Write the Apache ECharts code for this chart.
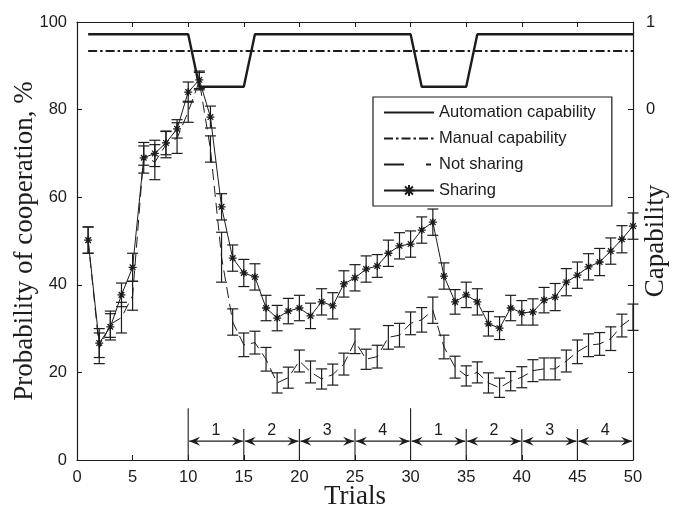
<!DOCTYPE html>
<html>
<head>
<meta charset="utf-8">
<script src="https://cdn.jsdelivr.net/npm/echarts@6/dist/echarts.min.js"></script>
<style>
html, body { margin: 0; padding: 0; background: #fff; }
#chart { width: 678px; height: 508px; }
</style>
</head>
<body>
<div id="chart"></div>
<script>
var trials = [1,2,3,4,5,6,7,8,9,10,11,12,13,14,15,16,17,18,19,20,21,22,23,24,25,
              26,27,28,29,30,31,32,33,34,35,36,37,38,39,40,41,42,43,44,45,46,47,48,49,50];

// probability of cooperation, %
var sharingMean = [50.2,26.7,30.4,37.7,44.0,69.0,70.0,72.4,75.6,84.0,
                   86.8,78.3,57.8,46.1,42.7,41.8,34.7,32.4,34.0,34.7,
                   32.9,36.1,35.2,40.2,41.6,43.6,44.3,47.2,48.9,49.3,
                   52.5,54.3,42.0,36.1,37.7,36.1,31.1,30.1,34.7,33.6,
                   33.8,36.5,37.2,40.6,42.2,44.1,45.2,47.7,50.4,53.4];
var sharingErr = [3.0,3.3,3.0,2.7,3.2,3.5,3.0,2.7,2.1,2.3,
                  2.0,2.5,3.0,3.0,3.1,3.0,2.9,2.9,2.9,2.9,
                  2.9,3.0,3.0,3.0,3.0,3.0,2.6,3.0,3.0,3.0,
                  3.0,3.0,3.0,2.8,2.9,3.0,2.8,2.6,2.9,2.8,
                  3.0,2.9,3.1,3.1,3.0,3.0,3.1,3.0,3.1,3.0];
var notSharingMean = [50.2,25.5,31.0,32.5,37.5,69.5,68.0,72.0,73.5,79.5,
                      86.5,71.0,46.3,31.5,26.3,26.8,23.0,17.6,18.8,22.6,
                      20.1,18.5,19.5,21.9,27.1,23.0,23.6,28.0,28.5,31.2,
                      32.0,34.2,25.8,21.2,19.2,20.0,17.6,16.5,18.0,18.9,
                      20.4,20.8,20.8,22.6,24.7,26.2,26.5,27.7,30.7,32.6];
var notSharingErr = [3.0,3.5,3.0,3.5,3.3,2.2,4.0,3.0,3.5,2.4,
                     2.0,3.0,5.7,3.0,2.7,2.6,2.7,2.3,2.4,2.5,
                     2.5,2.3,2.4,2.5,2.8,2.3,2.6,2.7,2.7,2.6,
                     2.8,3.0,2.7,2.5,2.3,2.4,2.3,2.2,2.2,2.4,
                     2.5,2.5,2.5,2.5,2.7,2.6,2.6,2.7,2.6,3.0];

// capability (right axis): corner points of the step profile
var automationTrials = [1, 10, 11, 15, 16, 30, 31, 35, 36, 50];
var automationLevel  = [0.86, 0.86, 0.26, 0.26, 0.86, 0.86, 0.26, 0.26, 0.86, 0.86];
var manualTrials = [1, 50];
var manualLevel  = [0.67, 0.67];

// phase annotations along the bottom
var phaseStart = [10, 15, 20, 25, 30, 35, 40, 45];
var phaseEnd   = [15, 20, 25, 30, 35, 40, 45, 50];
var phaseLabel = ['1', '2', '3', '4', '1', '2', '3', '4'];

var legendNames = ['Automation capability', 'Manual capability', 'Not sharing', 'Sharing'];

var ink = '#1c1c1c';
var clear = 'rgba(0,0,0,0)';
var sansFont = '"Liberation Sans", Arial, sans-serif';
var serifFont = '"Liberation Serif", "Times New Roman", serif';

function pairs(xs, ys) {
    return xs.map(function (x, i) { return [x, ys[i]]; });
}
function bars(mean, err) {
    return trials.map(function (t, i) { return [t, mean[i] - err[i], mean[i] + err[i]]; });
}

function renderErrorBar(params, api) {
    var x = api.value(0);
    var lo = api.coord([x, api.value(1)]);
    var hi = api.coord([x, api.value(2)]);
    var w = 5.5;
    var st = { stroke: ink, lineWidth: 1.2 };
    return {
        type: 'group',
        children: [
            { type: 'line', shape: { x1: lo[0], y1: lo[1], x2: hi[0], y2: hi[1] }, style: st },
            { type: 'line', shape: { x1: lo[0] - w, y1: lo[1], x2: lo[0] + w, y2: lo[1] }, style: st },
            { type: 'line', shape: { x1: hi[0] - w, y1: hi[1], x2: hi[0] + w, y2: hi[1] }, style: st }
        ]
    };
}

function arrowHead(tx, ty, dir) {
    return {
        type: 'polygon',
        shape: { points: [[tx, ty], [tx - 11 * dir, ty - 4.5], [tx - 7 * dir, ty], [tx - 11 * dir, ty + 4.5]] },
        style: { fill: ink }
    };
}

function renderPhase(params, api) {
    var s = api.value(0), e = api.value(1);
    var label = phaseLabel[params.dataIndex];
    var base = api.coord([s, 0]);
    var top = api.coord([s, label === '1' ? 11.8 : 7.1]);
    var a = api.coord([s, 4.3]);
    var b = api.coord([e, 4.3]);
    var st = { stroke: ink, lineWidth: 1.1 };
    return {
        type: 'group',
        children: [
            { type: 'line', shape: { x1: base[0], y1: base[1], x2: top[0], y2: top[1] }, style: st },
            { type: 'line', shape: { x1: a[0] + 1, y1: a[1], x2: b[0] - 1, y2: b[1] }, style: st },
            arrowHead(a[0] + 1, a[1], -1),
            arrowHead(b[0] - 1, b[1], 1),
            {
                type: 'text',
                style: {
                    text: label, x: (a[0] + b[0]) / 2, y: a[1] - 11,
                    align: 'center', verticalAlign: 'middle',
                    font: '16px ' + sansFont, fill: ink
                }
            }
        ]
    };
}

var chart = echarts.init(document.getElementById('chart'));

var axisLineStyle = { show: true, onZero: false, lineStyle: { color: ink, width: 1.2 } };
var tickStyle = { show: true, inside: true, length: 5, lineStyle: { color: ink, width: 1 } };
var nameStyle = { color: ink, fontSize: 27, fontFamily: serifFont };
var labelFont = 16.5;

var option = {
    backgroundColor: '#fff',
    animation: false,
    grid: { left: 77, right: 45, top: 22, bottom: 48, containLabel: false, outerBoundsMode: 'none' },
    legend: {
        data: legendNames.map(function (n) {
            if (n === 'Sharing') return { name: n };
            if (n === 'Not sharing') return { name: n, itemStyle: { opacity: 0 }, lineStyle: { type: [20, 22, 5, 60] } };
            return { name: n, itemStyle: { opacity: 0 } };
        }),
        orient: 'vertical',
        left: 373,
        top: 97,
        padding: [7, 16, 7, 10],
        itemGap: 9,
        itemWidth: 50,
        itemHeight: 14,
        selectedMode: false,
        borderColor: ink,
        borderWidth: 1.2,
        backgroundColor: '#fff',
        textStyle: { color: ink, fontSize: labelFont, fontFamily: sansFont, padding: [0, 0, 0, 0] }
    },
    xAxis: [{
        type: 'value', min: 0, max: 50, interval: 5,
        name: 'Trials', nameLocation: 'middle', nameGap: 23, nameMoveOverlap: false,
        nameTextStyle: nameStyle,
        axisLine: axisLineStyle, axisTick: tickStyle,
        axisLabel: { color: ink, fontSize: labelFont, fontFamily: sansFont, margin: 9 },
        splitLine: { show: false }
    }, {
        type: 'value', min: 0, max: 50, interval: 5, position: 'top',
        axisLine: axisLineStyle, axisTick: tickStyle,
        axisLabel: { show: false }, splitLine: { show: false }
    }],
    yAxis: [{
        type: 'value', min: 0, max: 100, interval: 20,
        name: 'Probability of cooperation, %', nameLocation: 'middle', nameGap: 39, nameMoveOverlap: false,
        nameTextStyle: nameStyle,
        axisLine: axisLineStyle, axisTick: tickStyle,
        axisLabel: { color: ink, fontSize: labelFont, fontFamily: sansFont, margin: 10 },
        splitLine: { show: false }
    }, {
        type: 'value', min: -4, max: 1, interval: 1, position: 'right',
        name: 'Capability', nameLocation: 'middle', nameGap: 9, nameMoveOverlap: false,
        nameTextStyle: nameStyle,
        axisLine: axisLineStyle, axisTick: tickStyle,
        axisLabel: {
            color: ink, fontSize: labelFont, fontFamily: sansFont, margin: 13,
            formatter: function (v) { return v >= 0 ? String(v) : ''; }
        },
        splitLine: { show: false }
    }],
    series: [{
        name: 'Automation capability', type: 'line', yAxisIndex: 1,
        data: pairs(automationTrials, automationLevel),
        symbol: 'none', silent: true,
        lineStyle: { color: ink, width: 2.4 }, itemStyle: { color: clear }
    }, {
        name: 'Manual capability', type: 'line', yAxisIndex: 1,
        data: pairs(manualTrials, manualLevel),
        symbol: 'none', silent: true,
        lineStyle: { color: ink, width: 2, type: [9, 3, 2.5, 3] }, itemStyle: { color: clear }
    }, {
        name: 'Not sharing', type: 'line',
        data: pairs(trials, notSharingMean),
        symbol: 'none', silent: true,
        lineStyle: { color: ink, width: 1, type: [11, 6] }, itemStyle: { color: clear }
    }, {
        name: 'Sharing', type: 'line',
        data: pairs(trials, sharingMean),
        symbol: 'path://M0,5L10,5M5,0L5,10M1.5,1.5L8.5,8.5M8.5,1.5L1.5,8.5',
        symbolSize: 8, showAllSymbol: true, silent: true,
        lineStyle: { color: ink, width: 1 },
        itemStyle: { color: clear, borderColor: ink, borderWidth: 1.3 }
    }, {
        name: 'err-not', type: 'custom', silent: true,
        data: bars(notSharingMean, notSharingErr),
        encode: { x: 0, y: [1, 2] },
        renderItem: renderErrorBar
    }, {
        name: 'err-share', type: 'custom', silent: true,
        data: bars(sharingMean, sharingErr),
        encode: { x: 0, y: [1, 2] },
        renderItem: renderErrorBar
    }, {
        name: 'phases', type: 'custom', silent: true,
        data: pairs(phaseStart, phaseEnd),
        encode: { x: [0, 1] },
        renderItem: renderPhase
    }]
};

chart.setOption(option);
</script>
</body>
</html>
